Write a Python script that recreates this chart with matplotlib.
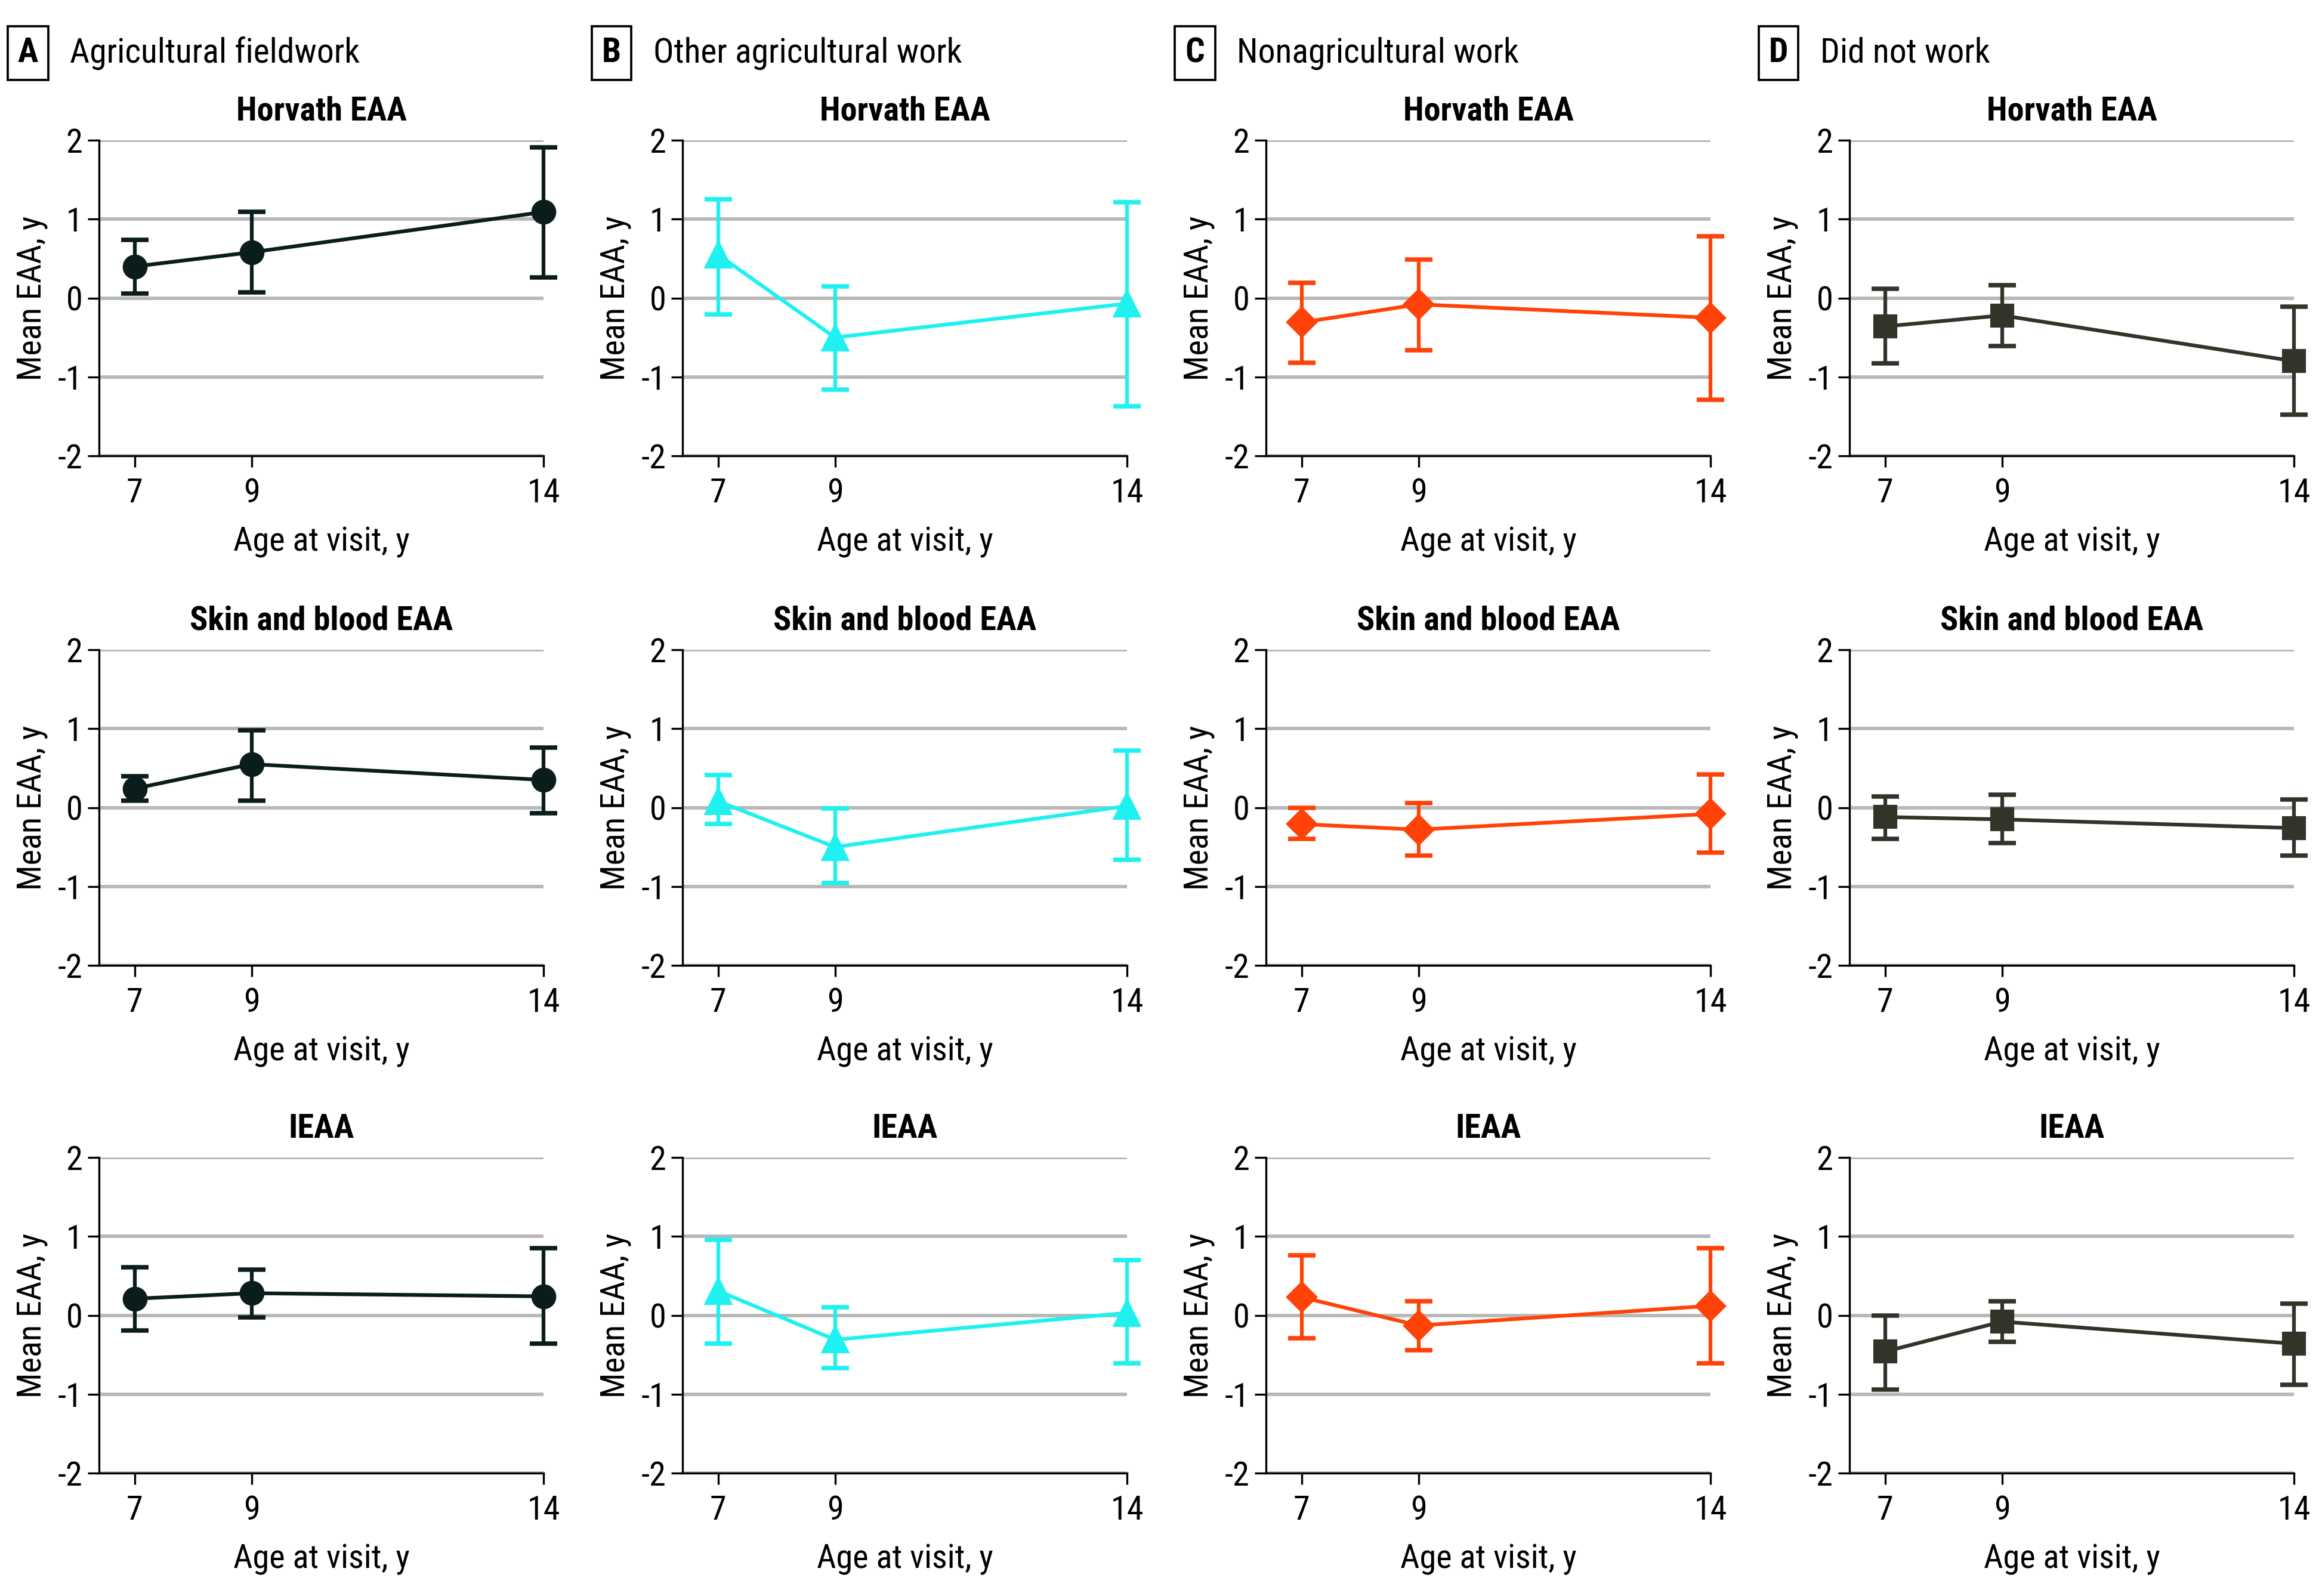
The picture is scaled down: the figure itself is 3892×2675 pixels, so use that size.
import matplotlib
matplotlib.use("Agg")
import matplotlib.pyplot as plt
from matplotlib import font_manager as fm

# ---------------- data ----------------
ages = [7, 9, 14]
group_letters = ["A", "B", "C", "D"]
group_names = ["Agricultural fieldwork", "Other agricultural work",
               "Nonagricultural work", "Did not work"]
metric_names = ["Horvath EAA", "Skin and blood EAA", "IEAA"]
y_ticks = [-2, -1, 0, 1, 2]
x_label = "Age at visit, y"
y_label = "Mean EAA, y"

# Horvath EAA (rows = groups A-D, cols = ages 7, 9, 14)
horvath_mean = [[0.40, 0.58, 1.09], [0.55, -0.50, -0.07], [-0.31, -0.08, -0.25], [-0.36, -0.22, -0.80]]
horvath_lo = [[0.06, 0.07, 0.26], [-0.21, -1.16, -1.37], [-0.82, -0.66, -1.29], [-0.83, -0.61, -1.48]]
horvath_hi = [[0.74, 1.09, 1.91], [1.25, 0.15, 1.21], [0.19, 0.49, 0.78], [0.12, 0.16, -0.11]]

# Skin and blood EAA
skin_mean = [[0.24, 0.55, 0.35], [0.08, -0.50, 0.02], [-0.21, -0.28, -0.08], [-0.12, -0.15, -0.26]]
skin_lo = [[0.09, 0.09, -0.07], [-0.21, -0.96, -0.66], [-0.40, -0.61, -0.57], [-0.40, -0.45, -0.61]]
skin_hi = [[0.40, 0.98, 0.76], [0.41, -0.01, 0.72], [0.00, 0.06, 0.42], [0.14, 0.16, 0.10]]

# IEAA
ieaa_mean = [[0.21, 0.28, 0.24], [0.31, -0.31, 0.03], [0.23, -0.13, 0.12], [-0.46, -0.08, -0.36]]
ieaa_lo = [[-0.19, -0.03, -0.36], [-0.36, -0.67, -0.61], [-0.29, -0.44, -0.61], [-0.94, -0.34, -0.88]]
ieaa_hi = [[0.61, 0.58, 0.85], [0.96, 0.10, 0.70], [0.76, 0.18, 0.85], [0.00, 0.18, 0.15]]

means = [horvath_mean, skin_mean, ieaa_mean]
lows = [horvath_lo, skin_lo, ieaa_lo]
highs = [horvath_hi, skin_hi, ieaa_hi]

# ---------------- style ----------------
colors = ["#0b1c1c", "#1ff0f0", "#ff4208", "#33332a"]
markers = ["o", "^", "D", "s"]
msizes = [9.0, 10.0, 8.3, 8.5]

avail = {f.name for f in fm.fontManager.ttflist}
font = "DejaVu Sans"
for cand in ["Roboto Condensed", "Liberation Sans Narrow", "Open Sans Condensed",
             "Noto Sans Condensed", "Roboto", "Liberation Sans"]:
    if cand in avail:
        font = cand
        break
plt.rcParams["font.family"] = [font, "DejaVu Sans"]

W, H, DPI = 3892, 2675, 300
fig = plt.figure(figsize=(W / DPI, H / DPI), dpi=DPI)
fig.patch.set_facecolor("white")

left0 = 166 / W
col_step = 978 / W
ax_w = (911 - 166) / W
ax_h = 529 / H
row_bottoms = [1 - 764 / H, 1 - 1618 / H, 1 - 2469 / H]

tick_fs = 13.5
label_fs = 13.5
title_fs = 13.5
header_fs = 13.8

for g in range(4):
    for m in range(3):
        ax = fig.add_axes([left0 + g * col_step, row_bottoms[m], ax_w, ax_h])
        mean = means[m][g]
        lo = lows[m][g]
        hi = highs[m][g]
        yerr = [[mv - lv for mv, lv in zip(mean, lo)], [hv - mv for mv, hv in zip(mean, hi)]]
        ax.errorbar(ages, mean, yerr=yerr, color=colors[g], marker=markers[g],
                    ms=msizes[g], lw=1.5, elinewidth=1.5, capsize=5.6, capthick=1.8,
                    clip_on=False, zorder=3)
        ax.set_xlim(6.39, 14)
        ax.set_ylim(-2, 2)
        ax.set_xticks(ages)
        ax.set_yticks(y_ticks)
        ax.set_yticklabels([str(t) for t in y_ticks])
        ax.grid(axis="y", color="#b8b8b8", lw=1.4, zorder=0)
        ax.set_axisbelow(True)
        for s in ["top", "right"]:
            ax.spines[s].set_visible(False)
        for s in ["left", "bottom"]:
            ax.spines[s].set_linewidth(0.8)
            ax.spines[s].set_zorder(4)
        ax.tick_params(axis="both", direction="out", length=4.6, width=0.8,
                       labelsize=tick_fs, colors="black")
        ax.tick_params(axis="x", pad=4)
        ax.tick_params(axis="y", pad=2)
        ax.set_xlabel(x_label, fontsize=label_fs, labelpad=7)
        ax.set_ylabel(y_label, fontsize=label_fs, labelpad=4)
        ax.set_title(metric_names[m], fontsize=title_fs, fontweight="bold", pad=8)

    # panel header
    bx = (left0 + g * col_step) * W - 146 + 27
    fig.text(bx / W, 1 - 89 / H, group_letters[g], fontsize=header_fs, fontweight="bold",
             ha="center", va="center",
             bbox=dict(boxstyle="square,pad=0.3", fc="white", ec="black", lw=0.9))
    fig.text((bx + 70) / W, 1 - 89 / H, group_names[g], fontsize=header_fs,
             ha="left", va="center")

fig.savefig("out.png", dpi=DPI, facecolor="white")
